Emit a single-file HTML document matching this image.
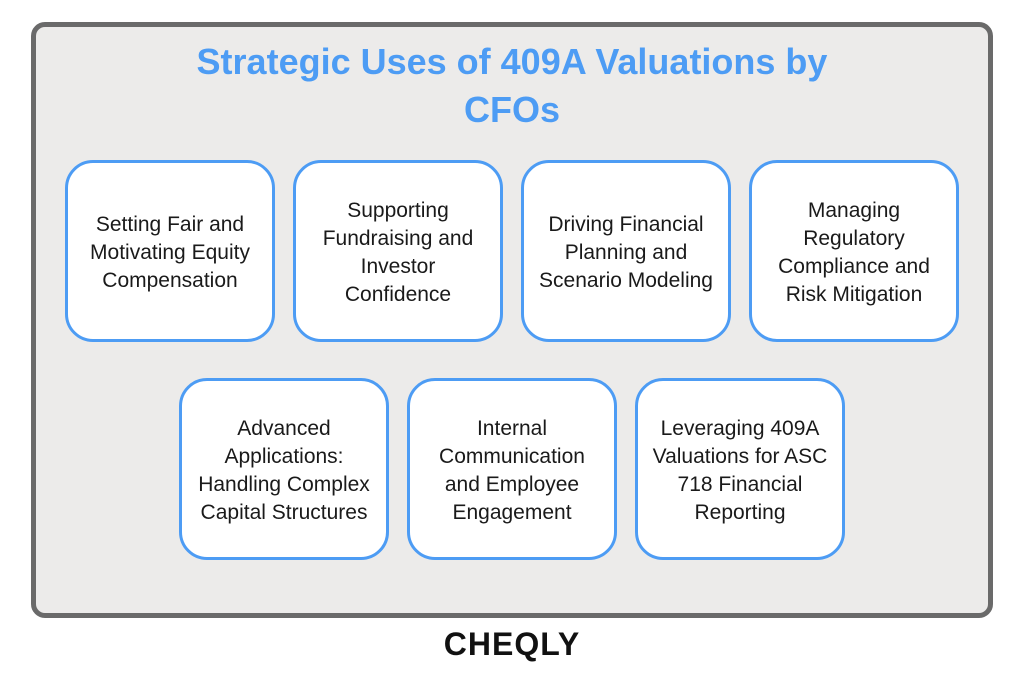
<!DOCTYPE html>
<html><head><style>
body{margin:0;width:1024px;height:688px;background:#fff;position:relative;font-family:"Liberation Sans",sans-serif;overflow:hidden}
.outer{position:absolute;left:31px;top:22px;width:952px;height:586px;border:5px solid #6a6a6a;border-radius:14px;background:#ecebea}
.title{position:absolute;left:0;top:38px;width:1024px;text-align:center;color:#4d9cf4;font-weight:bold;font-size:36px;line-height:48px}
.b{position:absolute;width:204px;height:176px;border:3px solid #4d9cf4;border-radius:28px;background:#fff;display:flex;align-items:center;justify-content:center;text-align:center;font-size:21px;line-height:28px;color:#1a1a1a;box-sizing:content-box;white-space:nowrap}
.b span{position:relative;top:2px}
.logo{position:absolute;left:0;top:626px;width:1024px;text-align:center;font-weight:bold;font-size:32px;letter-spacing:1px;color:#111}
</style></head><body>
<div class="outer"></div>
<div class="title">Strategic Uses of 409A Valuations by<br>CFOs</div>
<div class="b" style="left:65px;top:160px"><span>Setting Fair and<br>Motivating Equity<br>Compensation</span></div>
<div class="b" style="left:293px;top:160px"><span>Supporting<br>Fundraising and<br>Investor<br>Confidence</span></div>
<div class="b" style="left:521px;top:160px"><span>Driving Financial<br>Planning and<br>Scenario Modeling</span></div>
<div class="b" style="left:749px;top:160px"><span>Managing<br>Regulatory<br>Compliance and<br>Risk Mitigation</span></div>
<div class="b" style="left:179px;top:378px"><span>Advanced<br>Applications:<br>Handling Complex<br>Capital Structures</span></div>
<div class="b" style="left:407px;top:378px"><span>Internal<br>Communication<br>and Employee<br>Engagement</span></div>
<div class="b" style="left:635px;top:378px"><span>Leveraging 409A<br>Valuations for ASC<br>718 Financial<br>Reporting</span></div>
<div class="logo">CHEQLY</div>
</body></html>
